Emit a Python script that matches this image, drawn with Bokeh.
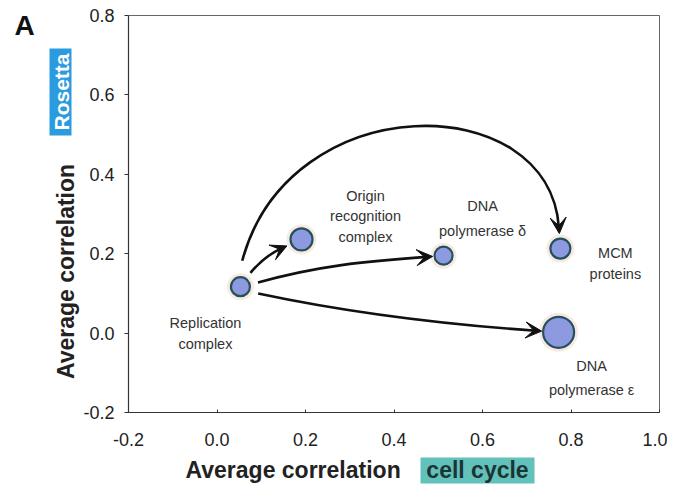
import math
from bokeh.plotting import figure
from bokeh.layouts import row, column
from bokeh.models import Range1d, FixedTicker, Label, Arrow, VeeHead, ColumnDataSource
from bokeh.core.properties import value
from bokeh.embed import file_html
from bokeh.resources import INLINE

# ---------------- data ----------------
complexes = ["Replication\ncomplex", "Origin\nrecognition\ncomplex", "DNA\npolymerase \u03b4",
             "MCM\nproteins", "DNA\npolymerase \u03b5"]
corr_cell_cycle = [0.053, 0.191, 0.512, 0.776, 0.772]
corr_rosetta = [0.117, 0.236, 0.195, 0.213, 0.002]
complex_size = [19, 22, 18, 20, 31]
arrow_from = [0, 0, 0, 0]
arrow_to = [3, 1, 2, 4]
x_ticks = [-0.2, 0.0, 0.2, 0.4, 0.6, 0.8, 1.0]
x_tick_labels = ["-0.2", "0.0", "0.2", "0.4", "0.6", "0.8", "1.0"]
y_ticks = [-0.2, 0.0, 0.2, 0.4, 0.6, 0.8]
y_tick_labels = ["-0.2", "0.0", "0.2", "0.4", "0.6", "0.8"]
x_title = "Average correlation"
x_title_tag = "cell cycle"
y_title = "Average correlation"
y_title_tag = "Rosetta"
panel = "A"

# ---------------- layout / style ----------------
FONT = "Liberation Sans"
X0, X1, Y0, Y1 = -0.2, 1.0, -0.2, 0.8
FW, FH = 531, 397
LEFT_W = 80
BL, BR, BT, BB = 47, 8, 15, 42
MAIN_H = BT + FH + BB
MAIN_W = BL + FW + BR
BOTTOM_H = 486 - MAIN_H
SX = FW / (X1 - X0)
SY = FH / (Y1 - Y0)


def d(a):
    r = math.radians(a)
    return math.cos(r), math.sin(r)


# arrow geometry in screen pixels (angles in degrees, y up)
arrow_style = [
    dict(a0=86, g0=26, t0=75, L1=180, h1=-86, g1=15, L2=141),
    dict(a0=54, g0=17, t0=50, L1=12, h1=24, g1=16, L2=12),
    dict(a0=13, g0=18, t0=16, L1=60, h1=4, g1=11, L2=60),
    dict(a0=-21, g0=19, t0=-12, L1=90, h1=-4, g1=17, L2=90),
]
label_offset = [(-35, 47), (64, -23), (39, -37), (55, 15), (33, 46)]
label_lh = [1.33, 1.3, 1.55, 1.3, 1.5]

p = figure(frame_width=FW, frame_height=FH, x_range=Range1d(X0, X1), y_range=Range1d(Y0, Y1),
           min_border_left=BL, min_border_right=BR, min_border_top=BT, min_border_bottom=BB,
           output_backend="svg", toolbar_location=None, background_fill_color="white",
           border_fill_color="white")
p.grid.visible = False
p.outline_line_color = "#666666"
p.outline_line_width = 1

p.xaxis.ticker = FixedTicker(ticks=x_ticks)
p.xaxis.major_label_overrides = dict(zip(x_ticks, x_tick_labels))
p.yaxis.ticker = FixedTicker(ticks=y_ticks)
p.yaxis.major_label_overrides = dict(zip(y_ticks, y_tick_labels))
for ax in (p.xaxis, p.yaxis):
    ax.major_label_text_font = FONT
    ax.major_label_text_font_size = "18px"
    ax.major_label_text_color = "#222222"
    ax.axis_line_color = "#333333"
    ax.axis_line_width = 1.2
    ax.major_tick_line_color = "#333333"
    ax.minor_tick_line_color = None
p.xaxis.major_tick_in = 3
p.xaxis.major_tick_out = 0
p.xaxis.major_label_standoff = 20
p.yaxis.major_tick_in = 0
p.yaxis.major_tick_out = 4
p.yaxis.major_label_standoff = 10

# arrows
for i, (s, t) in enumerate(zip(arrow_from, arrow_to)):
    st = arrow_style[i]
    sx, sy = corr_cell_cycle[s] * SX, corr_rosetta[s] * SY
    tx, ty = corr_cell_cycle[t] * SX, corr_rosetta[t] * SY
    a0 = d(st["a0"]); t0 = d(st["t0"]); h1 = d(st["h1"])
    p0 = (sx + st["g0"] * a0[0], sy + st["g0"] * a0[1])
    p1 = (p0[0] + st["L1"] * t0[0], p0[1] + st["L1"] * t0[1])
    tip = (tx - st["g1"] * h1[0], ty - st["g1"] * h1[1])
    p3 = (tip[0] - 6 * h1[0], tip[1] - 6 * h1[1])
    p2 = (p3[0] - st["L2"] * h1[0], p3[1] - st["L2"] * h1[1])
    p.bezier(x0=[p0[0] / SX], y0=[p0[1] / SY], x1=[p3[0] / SX], y1=[p3[1] / SY],
             cx0=[p1[0] / SX], cy0=[p1[1] / SY], cx1=[p2[0] / SX], cy1=[p2[1] / SY],
             line_color="#111111", line_width=2.6)
    back = (tip[0] - 9 * h1[0], tip[1] - 9 * h1[1])
    p.add_layout(Arrow(x_start=back[0] / SX, y_start=back[1] / SY, x_end=tip[0] / SX, y_end=tip[1] / SY,
                       line_alpha=0, end=VeeHead(size=16, fill_color="#111111", line_color="#111111",
                                                  line_width=1)))

# points
src = ColumnDataSource(dict(x=corr_cell_cycle, y=corr_rosetta, s=complex_size,
                            halo=[v + 8 for v in complex_size]))
p.scatter("x", "y", size="halo", source=src, fill_color="#f4d9c9", fill_alpha=0.55, line_color=None)
p.scatter("x", "y", size="s", source=src, fill_color="#8e9ae0", line_color="#24515f", line_width=2.2)

# point labels
for i, name in enumerate(complexes):
    ox, oy = label_offset[i]
    p.text(x=[corr_cell_cycle[i] + ox / SX], y=[corr_rosetta[i] - oy / SY], text=[name],
           text_font=value(FONT), text_font_size="14.5px", text_align="center",
           text_baseline="middle", text_line_height=label_lh[i], text_color="#333333")


def strip(w, h, x_left, y_top, y_bottom):
    # a blank figure whose data units are page pixels
    f = figure(width=w, height=h, x_range=Range1d(x_left, x_left + w), y_range=Range1d(y_bottom, y_top),
               x_axis_type=None, y_axis_type=None, min_border=0, output_backend="svg",
               toolbar_location=None, outline_line_color=None)
    f.grid.visible = False
    return f


def put(f, x, y, text, **kw):
    f.add_layout(Label(x=x, y=y, text=text, text_font=FONT, text_font_style="bold",
                       text_baseline="middle", **kw))


# left strip (its frame is aligned with the main frame): panel letter and y title
left = strip(LEFT_W, MAIN_H, 0, BT, BT + FH)
put(left, 24, 25, panel, text_font_size="28px", text_color="#111111", text_align="center")
put(left, 65, 271, y_title, angle=math.pi / 2, text_font_size="23px", text_color="#222222",
    text_align="center")
left.quad(left=[49], right=[71], top=[48], bottom=[135], fill_color="#2b9be0", line_color=None)
put(left, 61, 91.5, y_title_tag, angle=math.pi / 2, text_font_size="21px", text_color="white",
    text_align="center")

# bottom strip: x title
bottom = strip(LEFT_W + MAIN_W, BOTTOM_H, 0, MAIN_H, 486)
put(bottom, 185, 469, x_title, text_font_size="23px", text_color="#222222", text_align="left")
bottom.quad(left=[420], right=[534], top=[457], bottom=[483], fill_color="#62c1bb", line_color=None)
put(bottom, 477, 469, x_title_tag, text_font_size="23px", text_color="#1c3534", text_align="center")

layout = column(row(left, p), bottom)
open("out.html", "w").write(file_html(layout, INLINE))
